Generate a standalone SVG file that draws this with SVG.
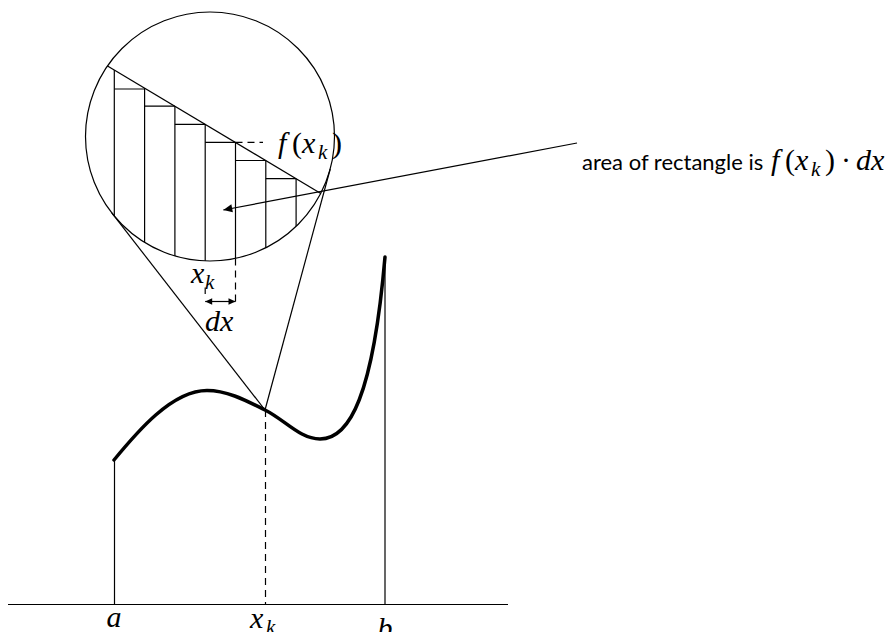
<svg xmlns="http://www.w3.org/2000/svg" width="892" height="632" viewBox="0 0 892 632">
<defs>
<style>
.thin{stroke:#000;stroke-width:1.2;fill:none}
.dash{stroke:#000;stroke-width:1.2;fill:none;stroke-dasharray:7 5}
.curve{stroke:#000;stroke-width:3.5;fill:none;stroke-linecap:round}
.m{font-family:"Liberation Serif","Times New Roman",serif;font-style:italic;font-size:30px;fill:#000}
.up{font-style:normal}
.sub{font-size:21px}
.t{font-family:Lato,"Open Sans","Liberation Sans",sans-serif;font-size:22px;fill:#000}
</style>
<marker id="ah" viewBox="0 0 10 10" refX="10" refY="5" markerWidth="11" markerHeight="9" markerUnits="userSpaceOnUse" orient="auto-start-reverse"><path d="M0,0.5 L10,5 L0,9.5 z" fill="#000"/></marker>
<marker id="ahs" viewBox="0 0 10 10" refX="10" refY="5" markerWidth="8" markerHeight="7" markerUnits="userSpaceOnUse" orient="auto-start-reverse"><path d="M0,0.5 L10,5 L0,9.5 z" fill="#000"/></marker>
<clipPath id="lens"><circle cx="210" cy="136.5" r="124.5"/></clipPath>
</defs>
<rect width="892" height="632" fill="#fff"/>

<g id="axis">
<line class="thin" x1="8" y1="604.5" x2="508" y2="604.5"/>
<line class="thin" x1="114.5" y1="604.5" x2="114.5" y2="460"/>
<line class="thin" x1="385" y1="604.5" x2="385" y2="258"/>
<line class="dash" x1="265.5" y1="410" x2="265.5" y2="604.5"/>
<text class="m" x="114" y="627" text-anchor="middle">a</text>
<text class="m" x="250" y="628">x<tspan class="sub" x="266" y="634">k</tspan></text>
<text class="m" x="385" y="638" text-anchor="middle">b</text>
</g>

<g id="curve">
<path class="curve" d="M114,460 C137,432 172,390.5 207,390.5 C227,390.5 245,400 265,410 C285,420 300,439 320,439 C350,439 373,395 385,257"/>
</g>

<g id="magnifier">
<circle class="thin" cx="210" cy="136.5" r="124.5"/>
<g clip-path="url(#lens)">
<line class="thin" x1="100" y1="61.4" x2="330" y2="199"/>
<path class="thin" d="M114.3,69.9 V300 M144.6,88.1 V300 M174.9,106.2 V300 M205.2,124.3 V300 M235.5,142.4 V300 M265.8,160.5 V300 M296.1,178.7 V300"/>
<path class="thin" d="M114.3,89 H144.6 M144.6,106.2 H174.9 M174.9,124.3 H205.2 M205.2,142.4 H235.5 M235.5,160.5 H265.8 M265.8,178.7 H296.1"/>
</g>
<line class="dash" x1="235.5" y1="142.4" x2="263" y2="142.4"/>
<text class="m" x="278" y="153">f<tspan class="up" x="292">(</tspan><tspan x="302">x</tspan><tspan class="sub" x="318" y="159">k</tspan><tspan class="up" x="332" y="153">)</tspan></text>
</g>

<g id="zoom-lines">
<line class="thin" x1="265" y1="410" x2="111.8" y2="212.9"/>
<line class="thin" x1="265" y1="410" x2="330.2" y2="169"/>
</g>

<g id="dx-detail">
<line class="dash" x1="235.5" y1="258.4" x2="235.5" y2="304"/>
<line class="thin" x1="205.2" y1="287.5" x2="205.2" y2="294"/>
<line class="thin" x1="205.2" y1="301.5" x2="235.5" y2="301.5" marker-start="url(#ahs)" marker-end="url(#ahs)"/>
<text class="m" x="191" y="283">x<tspan class="sub" x="205" y="289">k</tspan></text>
<text class="m" x="205" y="331">dx</text>
</g>

<g id="connectors">
<line class="thin" x1="577" y1="143" x2="223.3" y2="210" marker-end="url(#ah)"/>
</g>

<g id="label">
<text class="t" x="582" y="170">area of rectangle is</text>
<text class="m" x="771" y="170">f<tspan class="up" x="785">(</tspan><tspan x="795">x</tspan><tspan class="sub" x="811" y="176">k</tspan><tspan class="up" x="825" y="170">)</tspan><tspan class="up" x="841">·</tspan><tspan x="856">dx</tspan></text>
</g>
</svg>
